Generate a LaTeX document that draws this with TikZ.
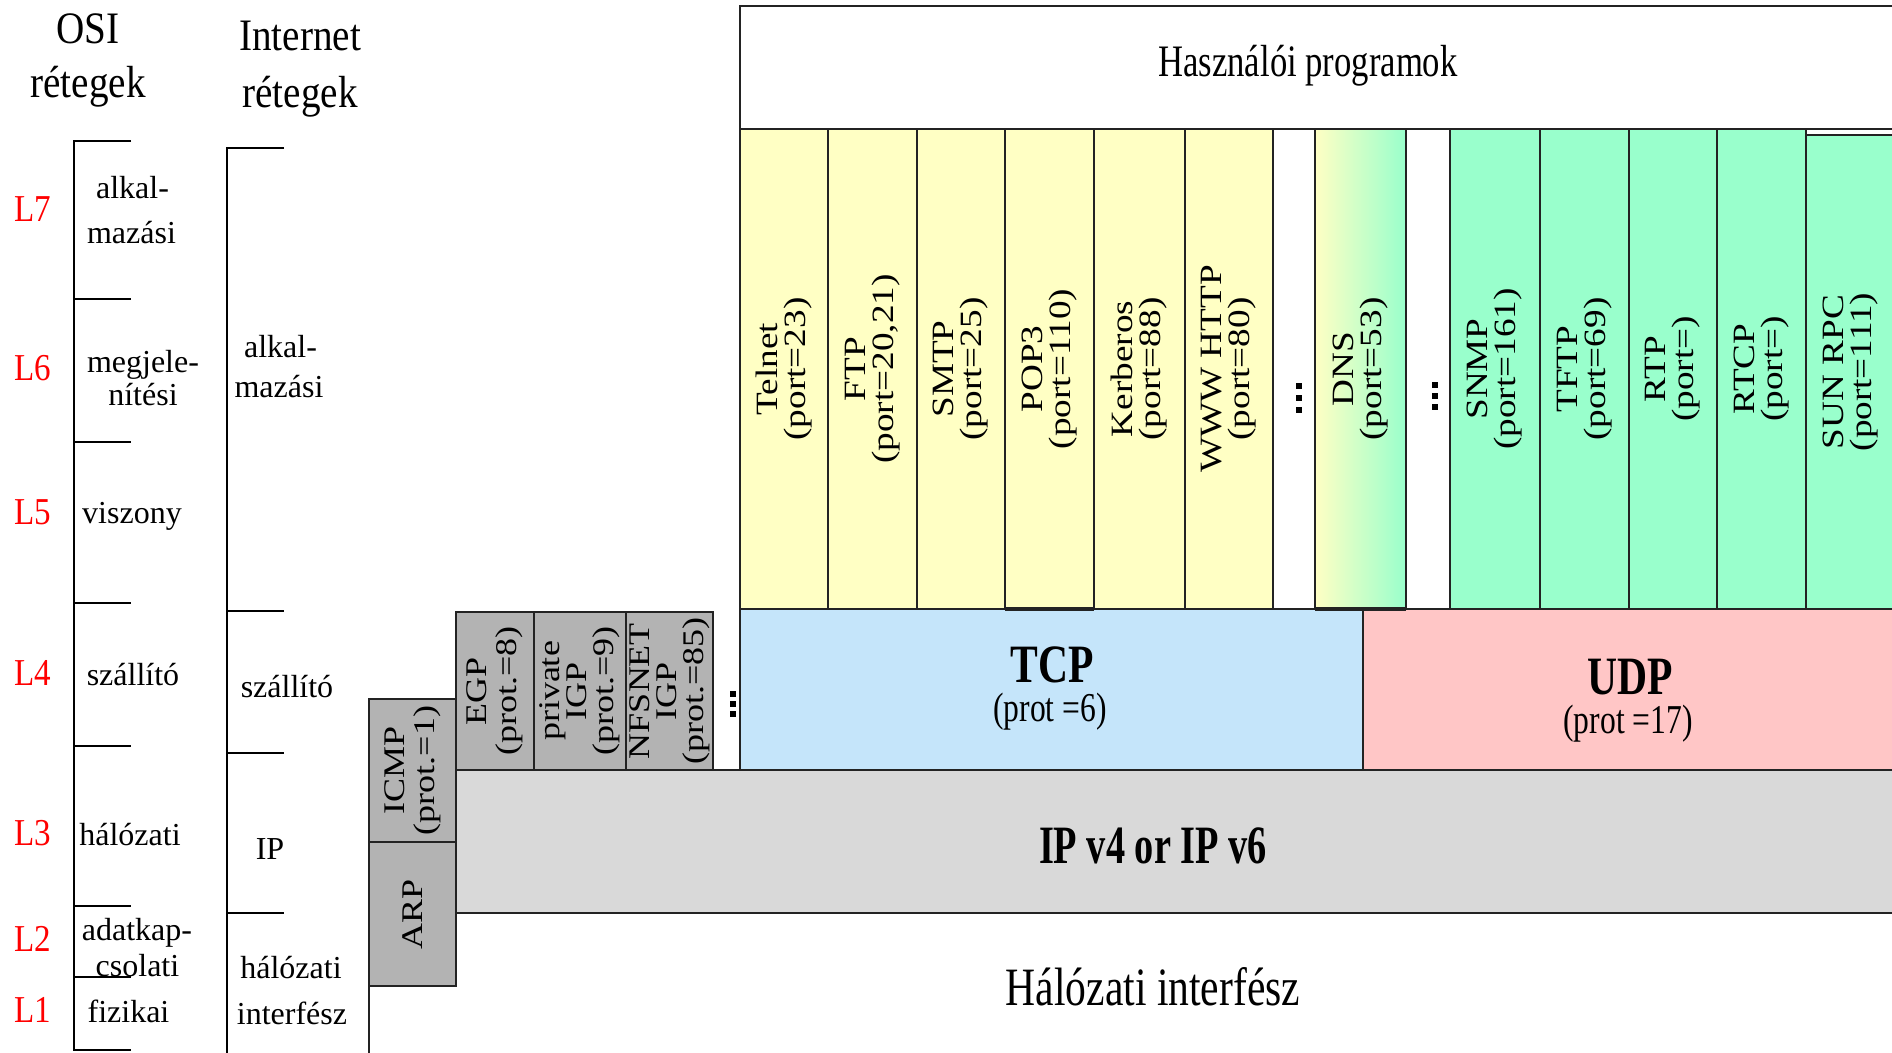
\documentclass[tikz,border=0pt]{standalone}
\usepackage{fontspec}
\setmainfont{Liberation Serif}
\newfontfamily\appfont[FakeStretch=1.2]{Liberation Serif}
\newfontfamily\condfont[FakeStretch=0.77]{Liberation Serif}
\newfontfamily\condfontb[FakeStretch=0.71]{Liberation Serif}
\newfontfamily\hdrfont[FakeStretch=0.87]{Liberation Serif}
\definecolor{appyellow}{RGB}{255,255,196}
\definecolor{appgreen}{RGB}{153,255,204}
\definecolor{tcpblue}{RGB}{197,229,250}
\definecolor{udppink}{RGB}{255,198,198}
\definecolor{ipgrey}{RGB}{217,217,217}
\definecolor{protgrey}{RGB}{179,179,179}
\definecolor{edgecol}{RGB}{35,35,35}
\tikzset{
  edgeln/.style={draw=edgecol, line width=2pt},
  box/.style={edgeln, inner sep=0pt, outer sep=0pt},
  appfnt/.style={font=\appfont\fontsize{31}{28}\selectfont},
  appcol/.style={box, rotate=90, minimum width=480pt, align=center, appfnt},
  protbox/.style={box, fill=protgrey, rotate=90, align=center,
    font=\appfont\fontsize{30}{27}\selectfont},
  flatbox/.style={box, anchor=north west},
  bracket/.style={draw=black, line width=2pt},
  ositxt/.style={anchor=base, inner sep=0pt, font=\fontsize{32}{36}\selectfont},
  lnum/.style={anchor=base, inner sep=0pt, text=red, font=\hdrfont\fontsize{38}{40}\selectfont},
  hdr/.style={anchor=base, inner sep=0pt, font=\hdrfont\fontsize{45}{50}\selectfont},
  bigtxt/.style={anchor=base, inner sep=0pt, font=\condfont\fontsize{54}{60}\selectfont},
  midtxt/.style={anchor=base, inner sep=0pt, font=\condfont\fontsize{41}{46}\selectfont},
}
\begin{document}
\begin{tikzpicture}[x=1pt,y=-1pt]
\clip (0,0) rectangle (1892,1052);
\fill[white] (0,0) rectangle (1892,1052);

% ---------- left: OSI and Internet layer brackets ----------
\draw[bracket] (131,141) -- (74,141) -- (74,1050) -- (131,1050);
\foreach \yy in {299,442,603,746,906,977} \draw[bracket] (74,\yy) -- (131,\yy);
\draw[bracket] (284,148) -- (227,148) -- (227,1060);
\foreach \yy in {611,753,913} \draw[bracket] (227,\yy) -- (284,\yy);

\node[hdr] (osihdrA) at (88,43) {OSI};
\node[hdr] (osihdrB) at (88,97) {rétegek};
\node[hdr] (inethdrA) at (300,50) {Internet};
\node[hdr] (inethdrB) at (300,107) {rétegek};

\node[lnum] (lseven) at (32.6,221) {L7};
\node[lnum] (lsix) at (32.6,380) {L6};
\node[lnum] (lfive) at (32.6,524) {L5};
\node[lnum] (lfour) at (32.6,685) {L4};
\node[lnum] (lthree) at (32.6,845) {L3};
\node[lnum] (ltwo) at (32.6,951) {L2};
\node[lnum] (lone) at (32.6,1022) {L1};

\node[ositxt] (oappA) at (132.5,198) {alkal-};
\node[ositxt] (oappB) at (131.5,243) {mazási};
\node[ositxt] (opresA) at (143,372) {megjele-};
\node[ositxt] (opresB) at (143,405) {nítési};
\node[ositxt] (osess) at (132,523) {viszony};
\node[ositxt] (otrans) at (133,685) {szállító};
\node[ositxt] (onet) at (130,845) {hálózati};
\node[ositxt] (odlA) at (137,940) {adatkap-};
\node[ositxt] (odlB) at (137.5,976) {csolati};
\node[ositxt] (ophys) at (128.5,1022) {fizikai};

\node[ositxt] (iappA) at (280.5,357) {alkal-};
\node[ositxt] (iappB) at (279,397) {mazási};
\node[ositxt] (itrans) at (287,697) {szállító};
\node[ositxt] (iip) at (270,859) {IP};
\node[ositxt] (inetA) at (291,978) {hálózati};
\node[ositxt] (inetB) at (292,1024) {interfész};

% ---------- right: protocol stack ----------
\node[flatbox, fill=ipgrey, minimum width=1500pt, minimum height=143pt] (ip) at (456,770) {};
\node[flatbox, fill=tcpblue, minimum width=623pt, minimum height=161pt] (tcp) at (740,609) {};
\node[flatbox, fill=udppink, minimum width=600pt, minimum height=161pt] (udp) at (1363,609) {};

\node[protbox, minimum width=143pt, minimum height=87pt, font=\appfont\fontsize{30}{30}\selectfont] (icmp) at (412.5,770.5) {ICMP\\(prot.=1)};
\node[protbox, minimum width=144pt, minimum height=87pt] (arp) at (412.5,914) {ARP};
\node[protbox, minimum width=158pt, minimum height=78pt, font=\appfont\fontsize{30}{30}\selectfont] (egp) at (495,691) {EGP\\(prot.=8)};
\node[protbox, minimum width=158pt, minimum height=92pt] (pigp) at (580,691) {private\\IGP\\(prot.=9)};
\node[protbox, minimum width=158pt, minimum height=87pt] (nfsnet) at (669.5,691) {NFSNET\\IGP\\(prot.=85)};
\coordinate (ifbottom) at (369,1060);
\draw[edgeln] (arp.north west) -- (ifbottom);

\node[flatbox, fill=white, minimum width=1200pt, minimum height=123pt] (userprog) at (740,6) {};

\node[appcol, fill=appyellow, minimum height=88pt] (telnet) at (784,369) {Telnet\\(port=23)};
\node[appcol, fill=appyellow, minimum height=89pt] (ftp) at (872.5,369) {FTP\\(port=20,21)};
\node[appcol, fill=appyellow, minimum height=88pt] (smtp) at (961,369) {SMTP\\(port=25)};
\node[appcol, fill=appyellow, minimum height=89pt] (pop) at (1049.5,369) {POP3\\(port=110)};
\node[appcol, fill=appyellow, minimum height=91pt] (kerb) at (1139.5,369) {Kerberos\\(port=88)};
\node[appcol, fill=appyellow, minimum height=88pt] (www) at (1229,369) {WWW HTTP\\(port=80)};
\node[appcol, fill=white, minimum height=42pt] (gapa) at (1294,369) {};
\node[flatbox, left color=appyellow, right color=appgreen, minimum width=91pt, minimum height=480pt] (dns) at (1315,129) {};
\node[rotate=90, align=center, inner sep=0pt, appfnt] (dnslbl) at (dns.center) {DNS\\(port=53)};
\node[appcol, fill=white, minimum height=44pt] (gapb) at (1428,369) {};
\node[appcol, fill=appgreen, minimum height=90pt] (snmp) at (1495,369) {SNMP\\(port=161)};
\node[appcol, fill=appgreen, minimum height=89pt] (tftp) at (1584.5,369) {TFTP\\(port=69)};
\node[appcol, fill=appgreen, minimum height=88pt] (rtp) at (1673,369) {RTP\\(port=)};
\node[appcol, fill=appgreen, minimum height=89pt] (rtcp) at (1761.5,369) {RTCP\\(port=)};
\node[appcol, fill=appgreen, minimum height=89pt, minimum width=474pt] (sunrpc) at (1850.5,372) {SUN RPC\\(port=111)};
\draw[edgeln, line width=4pt] (pop.north west) -- (pop.south west);
\draw[edgeln, line width=4pt] (dns.south west) -- (dns.south east);

% ellipses
\foreach \yy in {386,398,410} \fill[black] (1296,\yy-3) rectangle ++(6,6);
\foreach \yy in {385,396,407} \fill[black] (1432,\yy-3) rectangle ++(6,6);
\foreach \yy in {694,704,714} \fill[black] (730,\yy-3) rectangle ++(6,6);

% texts
\node[anchor=base, inner sep=0pt, font=\condfont\fontsize{45}{50}\selectfont] (userlbl) at (1308,76) {Használói programok};
\node[bigtxt, font=\condfont\bfseries\fontsize{54}{60}\selectfont] (tcplbl) at (1052,682) {TCP};
\node[midtxt] (tcpprot) at (1050,721) {(prot =6)};
\node[bigtxt, font=\condfont\bfseries\fontsize{54}{60}\selectfont] (udplbl) at (1630,694) {UDP};
\node[midtxt] (udpprot) at (1628,733) {(prot =17)};
\node[bigtxt, font=\condfontb\bfseries\fontsize{54}{60}\selectfont] (iplbl) at (1153,863) {IP v4 or IP v6};
\node[bigtxt] (nilbl) at (1153,1005) {Hálózati interfész};
\end{tikzpicture}
\end{document}
